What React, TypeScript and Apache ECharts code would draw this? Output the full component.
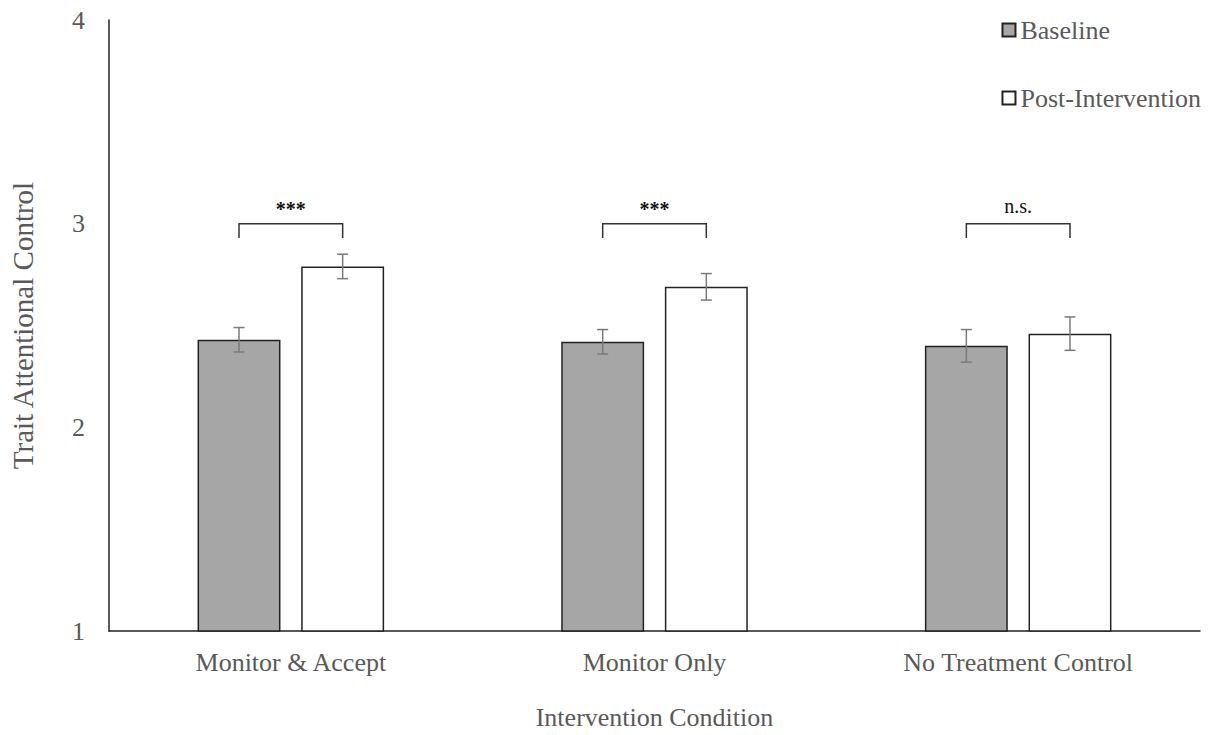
import React, { useEffect, useRef } from "react";
import * as echarts from "echarts";

const categories = ["Monitor & Accept", "Monitor Only", "No Treatment Control"];
const baseline = [2.43, 2.42, 2.4];
const post = [2.79, 2.69, 2.46];
const baselineErr = [0.06, 0.06, 0.08];
const postErr = [0.06, 0.065, 0.082];
const sigLabels = ["***", "***", "n.s."];
const bracketTop = [3.0, 3.0, 3.0];
const bracketLeg = [2.93, 2.93, 2.93];
const yTicks = [1, 2, 3, 4];

const FONT = "'Liberation Serif', 'Times New Roman', serif";
const BAR_W = 0.228;
const GAP = 0.25;

export default function App() {
  const ref = useRef<HTMLDivElement>(null);
  useEffect(() => {
    if (!ref.current) return;
    const chart = echarts.init(ref.current, null, { renderer: "svg" });
    const offsetFor = (band: number, s: number) => (s === 0 ? -1 : 1) * (0.5 + GAP / 2) * BAR_W * band;

    const errData: number[][] = [];
    categories.forEach((_, i) => {
      errData.push([i, baseline[i], baselineErr[i], 0]);
      errData.push([i, post[i], postErr[i], 1]);
    });
    const bracketData = categories.map((_, i) => [i, bracketTop[i], bracketLeg[i]]);

    chart.setOption({
      animation: false,
      grid: { left: 109, right: 20, top: 20, bottom: 103, containLabel: false },
      legend: {
        data: ["Baseline", "Post-Intervention"],
        orient: "vertical",
        right: 14,
        top: 12,
        itemGap: 42,
        itemWidth: 13,
        itemHeight: 13,
        icon: "rect",
        textStyle: { fontFamily: FONT, fontSize: 26, color: "#595959" },
      },
      xAxis: {
        type: "category",
        data: categories,
        axisLine: { lineStyle: { color: "#222", width: 1.5 } },
        axisTick: { show: false },
        axisLabel: { fontFamily: FONT, fontSize: 26, color: "#595959", margin: 18 },
        name: "Intervention Condition",
        nameLocation: "middle",
        nameGap: 73,
        nameTextStyle: { fontFamily: FONT, fontSize: 26, color: "#595959" },
      },
      yAxis: {
        type: "value",
        min: yTicks[0],
        max: yTicks[yTicks.length - 1],
        interval: 1,
        axisLine: { show: true, lineStyle: { color: "#222", width: 1.5 } },
        axisTick: { show: false },
        splitLine: { show: false },
        axisLabel: { fontFamily: FONT, fontSize: 26, color: "#595959", margin: 24 },
        name: "Trait Attentional Control",
        nameLocation: "middle",
        nameGap: 72,
        nameTextStyle: { fontFamily: FONT, fontSize: 29, color: "#595959" },
      },
      series: [
        {
          name: "Baseline",
          type: "bar",
          data: baseline,
          barWidth: BAR_W * 100 + "%",
          barGap: GAP * 100 + "%",
          itemStyle: { color: "#a6a6a6", borderColor: "#222", borderWidth: 1.5 },
        },
        {
          name: "Post-Intervention",
          type: "bar",
          data: post,
          barWidth: BAR_W * 100 + "%",
          barGap: GAP * 100 + "%",
          itemStyle: { color: "#ffffff", borderColor: "#222", borderWidth: 1.5 },
        },
        {
          type: "custom",
          name: "err",
          data: errData,
          encode: { x: 0, y: 1 },
          z: 10,
          silent: true,
          renderItem: (params: any, api: any) => {
            const cat = api.value(0);
            const v = api.value(1);
            const e = api.value(2);
            const s = api.value(3);
            const band = api.size([1, 0])[0];
            const off = offsetFor(band, s);
            const top = api.coord([cat, v + e]);
            const bot = api.coord([cat, v - e]);
            const x = top[0] + off;
            const cap = 5.5;
            const st = { stroke: "#7a7a7a", lineWidth: 1.5 };
            return {
              type: "group",
              children: [
                { type: "line", shape: { x1: x, y1: top[1], x2: x, y2: bot[1] }, style: st },
                { type: "line", shape: { x1: x - cap, y1: top[1], x2: x + cap, y2: top[1] }, style: st },
                { type: "line", shape: { x1: x - cap, y1: bot[1], x2: x + cap, y2: bot[1] }, style: st },
              ],
            };
          },
        },
        {
          type: "custom",
          name: "sig",
          data: bracketData,
          encode: { x: 0, y: 1 },
          z: 10,
          silent: true,
          renderItem: (params: any, api: any) => {
            const cat = api.value(0);
            const t = api.value(1);
            const l = api.value(2);
            const band = api.size([1, 0])[0];
            const pTop = api.coord([cat, t]);
            const pLeg = api.coord([cat, l]);
            const x1 = pTop[0] + offsetFor(band, 0);
            const x2 = pTop[0] + offsetFor(band, 1);
            const label = sigLabels[params.dataIndex];
            const isStars = label.indexOf("*") >= 0;
            return {
              type: "group",
              children: [
                {
                  type: "polyline",
                  shape: { points: [[x1, pLeg[1]], [x1, pTop[1]], [x2, pTop[1]], [x2, pLeg[1]]] },
                  style: { stroke: "#333", lineWidth: 1.5, fill: "none" },
                },
                {
                  type: "text",
                  x: (x1 + x2) / 2,
                  y: pTop[1] - (isStars ? 5 : 8),
                  style: {
                    text: label,
                    fontFamily: FONT,
                    fontSize: 20,
                    fontWeight: isStars ? "bold" : "normal",
                    fill: "#111",
                    align: "center",
                    verticalAlign: "bottom",
                  },
                },
              ],
            };
          },
        },
      ],
    });
    return () => chart.dispose();
  }, []);
  return <div ref={ref} style={{ width: 1220, height: 735, position: "absolute", left: 0, top: 0 }} />;
}
